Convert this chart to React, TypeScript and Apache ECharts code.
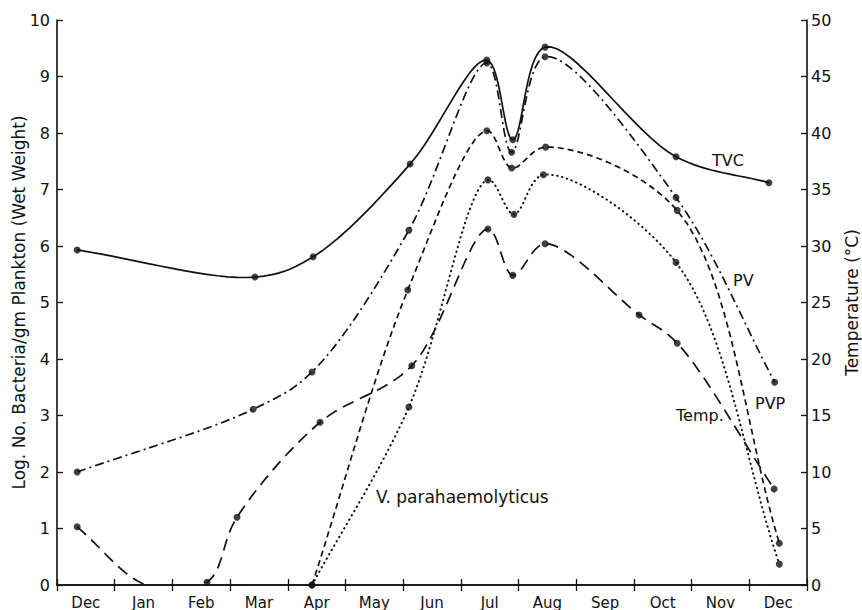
import React, { useEffect, useRef } from "react";
import * as echarts from "echarts";

const months = ["Dec", "Jan", "Feb", "Mar", "Apr", "May", "Jun", "Jul", "Aug", "Sep", "Oct", "Nov", "Dec"];

// x positions are in months from the start of the first December
const tvcX = [0.35, 3.43, 4.44, 6.12, 7.45, 7.9, 8.46, 10.73, 12.34];
const tvcY = [5.93, 5.45, 5.81, 7.45, 9.29, 7.88, 9.52, 7.58, 7.12];

const pvX = [0.35, 3.4, 4.42, 6.1, 7.45, 7.88, 8.46, 10.73, 12.44];
const pvY = [2.0, 3.11, 3.77, 6.28, 9.24, 7.66, 9.35, 6.86, 3.59];

const pvpX = [4.42, 6.08, 7.45, 7.88, 8.47, 10.75, 12.52];
const pvpY = [0, 5.22, 8.04, 7.38, 7.75, 6.63, 0.74];

const vpX = [4.42, 6.1, 7.47, 7.92, 8.43, 10.73, 12.52];
const vpY = [0, 3.15, 7.17, 6.56, 7.26, 5.71, 0.37];

// temperature in °C (right axis)
const tempX = [0.35, 1.55, 2.6, 3.12, 4.56, 6.15, 7.47, 7.9, 8.46, 10.09, 10.75, 12.43];
const tempY = [5.15, 0, 0.25, 6.0, 14.4, 19.4, 31.5, 27.4, 30.2, 23.9, 21.4, 8.5];
const tempMarked = [true, false, true, true, true, true, true, true, true, true, true, true];

const leftTicks = { min: 0, max: 10, interval: 1 };
const rightTicks = { min: 0, max: 50, interval: 5 };

const INK = "#111";
const FONT = "DejaVu Sans";

type P = number[];

// centripetal Catmull-Rom through pixel points
function catmull(pts: P[], steps = 16): P[] {
  if (pts.length < 2) return pts;
  const out: P[] = [];
  const n = pts.length;
  const get = (i: number): P => {
    if (i < 0) return [2 * pts[0][0] - pts[1][0], 2 * pts[0][1] - pts[1][1]];
    if (i >= n) return [2 * pts[n - 1][0] - pts[n - 2][0], 2 * pts[n - 1][1] - pts[n - 2][1]];
    return pts[i];
  };
  const tj = (ti: number, a: P, b: P) => ti + Math.max(Math.pow(Math.hypot(b[0] - a[0], b[1] - a[1]), 0.5), 1e-4);
  const lerp = (a: P, b: P, ta: number, tb: number, t: number): P => {
    const w = (t - ta) / (tb - ta);
    return [a[0] + (b[0] - a[0]) * w, a[1] + (b[1] - a[1]) * w];
  };
  for (let i = 0; i < n - 1; i++) {
    const p0 = get(i - 1), p1 = get(i), p2 = get(i + 1), p3 = get(i + 2);
    const t0 = 0;
    const t1 = tj(t0, p0, p1);
    const t2 = tj(t1, p1, p2);
    const t3 = tj(t2, p2, p3);
    for (let s = 0; s < steps; s++) {
      const t = t1 + ((t2 - t1) * s) / steps;
      const a1 = lerp(p0, p1, t0, t1, t);
      const a2 = lerp(p1, p2, t1, t2, t);
      const a3 = lerp(p2, p3, t2, t3, t);
      const b1 = lerp(a1, a2, t0, t2, t);
      const b2 = lerp(a2, a3, t1, t3, t);
      out.push(lerp(b1, b2, t1, t2, t));
    }
  }
  out.push(pts[n - 1]);
  return out;
}

function curveSeries(name: string, xs: number[], ys: number[], dash: any, yAxisIndex = 0, cap = "butt", width = 1.7) {
  return {
    name,
    type: "custom",
    xAxisIndex: 1,
    yAxisIndex,
    data: [[xs[0], ys[0]]],
    clip: true,
    silent: true,
    z: 3,
    renderItem: (_params: any, api: any) => {
      const pts = xs.map((x, i) => api.coord([x, ys[i]]));
      return {
        type: "polyline",
        shape: { points: catmull(pts) },
        style: { stroke: INK, fill: "none", lineWidth: width, lineDash: dash, lineCap: cap, lineJoin: "round" },
      };
    },
  };
}

function dotSeries(name: string, xs: number[], ys: number[], yAxisIndex = 0, marked?: boolean[]) {
  const data = xs.map((x, i) => [x, ys[i]]).filter((_, i) => !marked || marked[i]);
  return {
    name: name + " points",
    type: "scatter",
    xAxisIndex: 1,
    yAxisIndex,
    data,
    symbol: "circle",
    symbolSize: 7,
    itemStyle: { color: INK },
    z: 4,
    silent: true,
  };
}

export default function App() {
  const ref = useRef<HTMLDivElement>(null);
  useEffect(() => {
    if (!ref.current) return;
    const chart = echarts.init(ref.current, undefined, { renderer: "svg" });
    const axisLine = { show: true, lineStyle: { color: INK, width: 1.6 } };
    const tick = { show: true, inside: true, length: 6, lineStyle: { color: INK, width: 1.3 } };
    const label = (t: string, x: number, y: number, size = 16) => ({
      type: "text",
      x,
      y,
      style: {
        text: t,
        fill: INK,
        font: `${size}px "${FONT}"`,
        textAlign: "left",
        align: "left",
        textVerticalAlign: "middle",
        verticalAlign: "middle",
      },
    });
    chart.setOption({
      animation: false,
      backgroundColor: "#fff",
      grid: { left: 57, right: 55, top: 20, bottom: 25, containLabel: false, outerBoundsMode: "none" },
      xAxis: [
        {
          type: "category",
          data: months,
          position: "bottom",
          boundaryGap: true,
          axisLine,
          axisTick: { ...tick, alignWithLabel: false },
          axisLabel: { color: INK, fontSize: 15, fontFamily: FONT, margin: 10 },
          splitLine: { show: false },
        },
        {
          type: "value",
          min: 0,
          max: 13,
          interval: 1,
          position: "top",
          axisLine,
          axisTick: tick,
          axisLabel: { show: false },
          splitLine: { show: false },
        },
      ],
      yAxis: [
        {
          type: "value",
          ...leftTicks,
          position: "left",
          axisLine,
          axisTick: tick,
          axisLabel: { color: INK, fontSize: 16, fontFamily: FONT, margin: 7 },
          splitLine: { show: false },
          name: "Log. No. Bacteria/gm Plankton (Wet Weight)",
          nameLocation: "middle",
          nameRotate: 90,
          nameGap: 30,
          nameMoveOverlap: false,
          nameTextStyle: { color: INK, fontSize: 17, fontFamily: FONT },
        },
        {
          type: "value",
          ...rightTicks,
          position: "right",
          axisLine,
          axisTick: tick,
          axisLabel: { color: INK, fontSize: 16, fontFamily: FONT, margin: 4 },
          splitLine: { show: false },
          name: "Temperature (°C)",
          nameLocation: "middle",
          nameRotate: 90,
          nameGap: 36,
          nameMoveOverlap: false,
          nameTextStyle: { color: INK, fontSize: 17, fontFamily: FONT },
        },
      ],
      series: [
        curveSeries("TVC", tvcX, tvcY, null),
        curveSeries("PV", pvX, pvY, [9, 4, 2, 4]),
        curveSeries("PVP", pvpX, pvpY, [6, 4]),
        curveSeries("V. parahaemolyticus", vpX, vpY, [0.5, 4.5], 0, "round", 2),
        curveSeries("Temp.", tempX, tempY, [12, 7], 1),
        dotSeries("TVC", tvcX, tvcY),
        dotSeries("PV", pvX, pvY),
        dotSeries("PVP", pvpX, pvpY),
        dotSeries("V. parahaemolyticus", vpX, vpY),
        dotSeries("Temp.", tempX, tempY, 1, tempMarked),
      ],
      graphic: [
        label("TVC", 712, 160),
        label("PV", 733, 280),
        label("PVP", 755, 403),
        label("Temp.", 676, 415),
        label("V. parahaemolyticus", 376, 497, 17),
      ],
    });
    return () => chart.dispose();
  }, []);
  return <div ref={ref} style={{ width: 862, height: 610, position: "absolute", left: 0, top: 0 }} />;
}
